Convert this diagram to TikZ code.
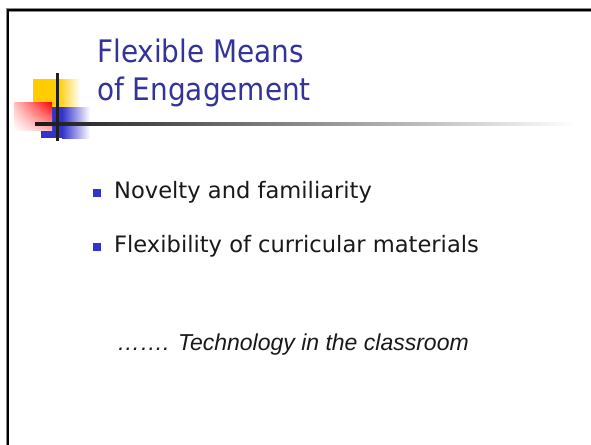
\documentclass[tikz,border=0pt]{standalone}
\usepackage{fontspec}
\usetikzlibrary{shadings}
\newfontfamily\slidefont[FakeStretch=0.90]{DejaVu Sans}
\newfontfamily\itemfont{DejaVu Sans}
\newfontfamily\notefont{Liberation Sans}
\definecolor{titleblue}{RGB}{51,51,153}
\definecolor{bulletblue}{RGB}{51,51,204}
\definecolor{logoyellow}{RGB}{255,204,0}
\definecolor{logoblue}{RGB}{51,51,204}

\begin{document}
\begin{tikzpicture}[x=1pt, y=-1pt,
    title/.style={anchor=base west, inner sep=0pt, text=titleblue, font=\slidefont\fontsize{31}{36}\selectfont},
    item/.style={anchor=base west, inner sep=0pt, text=black!90, font=\itemfont\fontsize{22.6}{26}\selectfont},
    note/.style={anchor=base west, inner sep=0pt, text=black!90, font=\notefont\itshape\fontsize{23}{28}\selectfont},
    bullet/.style={fill=bulletblue, minimum size=8pt, inner sep=0pt, anchor=south west}
  ]
  \useasboundingbox (0,0) rectangle (591,444);

  % slide frame
  \draw[line width=3.5pt, black!45] (7.7,450) -- (7.7,10) -- (600,10);
  \draw[line width=2pt, black] (7.7,450) -- (7.7,10) -- (600,10);

  % logo squares
  \fill[logoyellow] (33,79) rectangle (58,108);
  \shade[left color=logoyellow, right color=white] (58,79) rectangle (80,108);
  \fill[logoblue] (41,107) rectangle (62,138);
  \shade[left color=logoblue, right color=white] (62,107) rectangle (90,138);
  \shade[upper left=red!25, upper right=red, lower left=white, lower right=red!30] (14,102) rectangle (52,130);

  % title rule and cross line
  \shade[left color=black!90, right color=white] (35,122.8) rectangle (575,125.6);
  \fill[black!88] (55.5,73) rectangle (58.5,141);

  % title
  \node[title] (title1) at (97,63) {Flexible Means};
  \node[title] (title2) at (97,100) {of Engagement};

  % bullets
  \node[bullet] (b1) at (92.7,197.3) {};
  \node[item] (item1) at (114,198.3) {Novelty and familiarity};
  \node[bullet] (b2) at (92.7,251.3) {};
  \node[item] (item2) at (114,252.3) {Flexibility of curricular materials};

  % closing remark
  \node[note] (note) at (117,350) {……. Technology in the classroom};
\end{tikzpicture}
\end{document}
